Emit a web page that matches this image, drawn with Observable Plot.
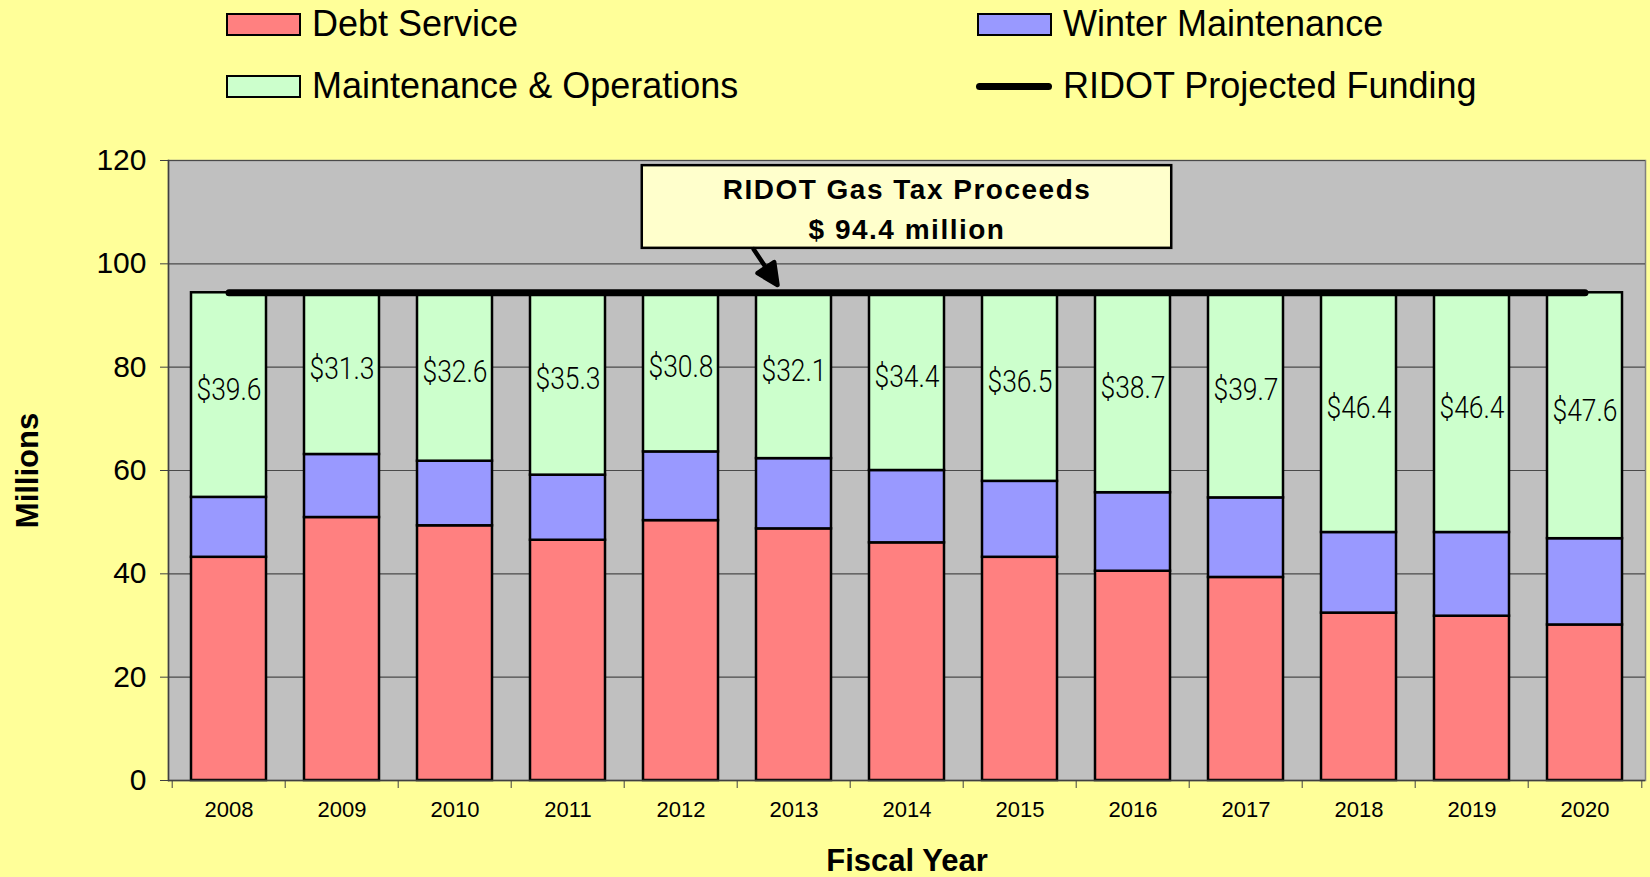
<!DOCTYPE html>
<html><head><meta charset="utf-8">
<script src="https://cdn.jsdelivr.net/npm/d3@7"></script>
<script src="https://cdn.jsdelivr.net/npm/@observablehq/plot@0.6"></script>
<style>
html,body{margin:0;padding:0;background:#ffff99;}
body{width:1650px;height:877px;overflow:hidden;font-family:"Liberation Sans",Arial,sans-serif;}
#legend{position:relative;height:110px;}
.item{position:absolute;display:flex;align-items:center;height:40px;font-size:36px;color:#000;white-space:nowrap;}
.sw{width:75px;height:23px;border:2.5px solid #000;box-sizing:border-box;margin-right:11px;}
.ln{width:76px;height:7px;border-radius:4px;background:#000;margin-right:11px;}
svg{display:block;}
</style></head><body>
<div id="legend"></div>
<div id="chart"></div>
<script>
// ---- data ----
const years = ["2008","2009","2010","2011","2012","2013","2014","2015","2016","2017","2018","2019","2020"];
const debtService = [43.2,50.9,49.3,46.5,50.3,48.7,46.0,43.2,40.5,39.3,32.4,31.8,30.1];
const winterMaintenance = [11.6,12.2,12.5,12.6,13.3,13.6,14.0,14.7,15.2,15.4,15.6,16.2,16.7];
const maintenanceOperations = [39.6,31.3,32.6,35.3,30.8,32.1,34.4,36.5,38.7,39.7,46.4,46.4,47.6];
const projectedFunding = [94.4,94.4,94.4,94.4,94.4,94.4,94.4,94.4,94.4,94.4,94.4,94.4,94.4];
const seriesNames = ["Debt Service","Winter Maintenance","Maintenance & Operations"];
const seriesColors = ["#ff8080","#9999ff","#ccffcc"];
const yTicks = [0,20,40,60,80,100,120];
const annotationLines = ["RIDOT Gas Tax Proceeds","$ 94.4 million"];

// ---- legend ----
const legendItems = [
  {label: seriesNames[0], type: "box", color: seriesColors[0], left: 226, top: 4},
  {label: seriesNames[1], type: "box", color: seriesColors[1], left: 977, top: 4},
  {label: seriesNames[2], type: "box", color: seriesColors[2], left: 226, top: 66},
  {label: "RIDOT Projected Funding", type: "line", color: "#000", left: 976, top: 66}
];
const legend = document.getElementById("legend");
for (const it of legendItems) {
  const d = document.createElement("div");
  d.className = "item";
  d.style.left = it.left + "px";
  d.style.top = it.top + "px";
  const s = document.createElement("span");
  s.className = it.type === "box" ? "sw" : "ln";
  if (it.type === "box") s.style.background = it.color;
  d.appendChild(s);
  d.appendChild(document.createTextNode(it.label));
  legend.appendChild(d);
}

// ---- table ----
const table = years.map((y, i) => ({year: y, debt: debtService[i], winter: winterMaintenance[i], mo: maintenanceOperations[i], fund: projectedFunding[i]}));
const long = [];
years.forEach((y, i) => {
  long.push({year: y, series: seriesNames[0], value: debtService[i]});
  long.push({year: y, series: seriesNames[1], value: winterMaintenance[i]});
  long.push({year: y, series: seriesNames[2], value: maintenanceOperations[i]});
});

const W = 1650, H = 767, mL = 168, mR = 5, mT = 50, mB = 97;
const step = (W - mL - mR) / years.length;

const arrowShape = {
  draw(ctx, l) {
    const h = 21, w = 10;
    ctx.moveTo(0, 0);
    ctx.lineTo(0, -l + h);
    ctx.moveTo(-w, -l + h);
    ctx.lineTo(0, -l);
    ctx.lineTo(w, -l + h);
    ctx.closePath();
  }
};

const chart = Plot.plot({
  width: W, height: H,
  marginLeft: mL, marginRight: mR, marginTop: mT, marginBottom: mB,
  style: {background: "transparent", fontFamily: "'Liberation Sans', Arial, sans-serif", color: "#000"},
  x: {type: "band", domain: years, paddingInner: 1/3, paddingOuter: 1/6, label: null, axis: null},
  y: {domain: [0, 120], label: null, axis: null},
  color: {domain: seriesNames, range: seriesColors},
  marks: [
    Plot.frame({fill: "#c0c0c0", stroke: "#808080", strokeWidth: 1.5}),
    Plot.gridY(yTicks, {stroke: "#4a4a4a", strokeOpacity: 1, strokeWidth: 1.2}),
    Plot.frame({anchor: "left", stroke: "#404040", strokeWidth: 1.5}),
    Plot.barY(long, {x: "year", y: "value", fill: "series", order: seriesNames, stroke: "#000", strokeWidth: 2.5}),
    Plot.ruleY([0], {stroke: "#404040", strokeWidth: 1.5}),
    Plot.lineY(table, {x: "year", y: "fund", stroke: "#000", strokeWidth: 7, strokeLinecap: "round"}),
    Plot.text(table, {x: "year", y: d => d.debt + d.winter + d.mo / 2, text: d => "$" + d.mo.toFixed(1), dy: -5,
      fontSize: 31.5, fontWeight: 300, fontFamily: "Roboto, 'Liberation Sans', sans-serif", fill: "#000"}),
    Plot.axisY(yTicks, {tickSize: 8, tickPadding: 14, fontSize: 30, stroke: "#404040", label: null}),
    Plot.axisX({tickSize: 0, tickPadding: 21, fontSize: 22, label: null}),
    Plot.axisX({tickSize: 8, tickFormat: () => "", dx: -step / 2, stroke: "#404040", label: null}),
    Plot.axisX([years[years.length - 1]], {tickSize: 8, tickFormat: () => "", dx: step / 2, stroke: "#404040", label: null}),
    Plot.text(["Millions"], {frameAnchor: "left", textAnchor: "middle", rotate: -90, dx: -140, fontWeight: "bold", fontSize: 31}),
    Plot.text(["Fiscal Year"], {frameAnchor: "bottom", dy: 90, fontWeight: "bold", fontSize: 31}),
    Plot.barY([{x: "2014", y1: 103, y2: 119}], {x: "x", y1: "y1", y2: "y2", fill: "#ffffcc", stroke: "#000", strokeWidth: 2.5,
      insetLeft: -2 * step, insetRight: -2 * step}),
    Plot.text([{x: "2014", y: 111.2}], {x: "x", y: "y", text: () => annotationLines.join("\n"), fontWeight: "bold", fontSize: 28,
      lineHeight: 1.46}),
    Plot.vector([{x: "2013", y: 95.9}], {x: "x", y: "y", length: 43, rotate: 146.3, anchor: "end", shape: arrowShape,
      stroke: "#000", fill: "#000", strokeWidth: 4.5, strokeLinejoin: "round", dx: -16.5})
  ]
});
document.getElementById("chart").appendChild(chart);
// narrow the segment labels horizontally (condensed face) and space the annotation letters
chart.querySelectorAll("text").forEach(el => {
  const txt = el.textContent;
  if (/^\$\d+\.\d$/.test(txt)) {
    const x = el.getAttribute("x"), y = el.getAttribute("y");
    if (x != null) {
      el.removeAttribute("x");
      el.removeAttribute("y");
      el.setAttribute("transform", `translate(${x},${y || 0}) scale(0.84,1)`);
    } else {
      el.setAttribute("transform", (el.getAttribute("transform") || "") + " scale(0.84,1)");
    }
  } else if (txt.indexOf(annotationLines[0]) >= 0) {
    el.style.letterSpacing = "1.5px";
  }
});
</script>
</body></html>
